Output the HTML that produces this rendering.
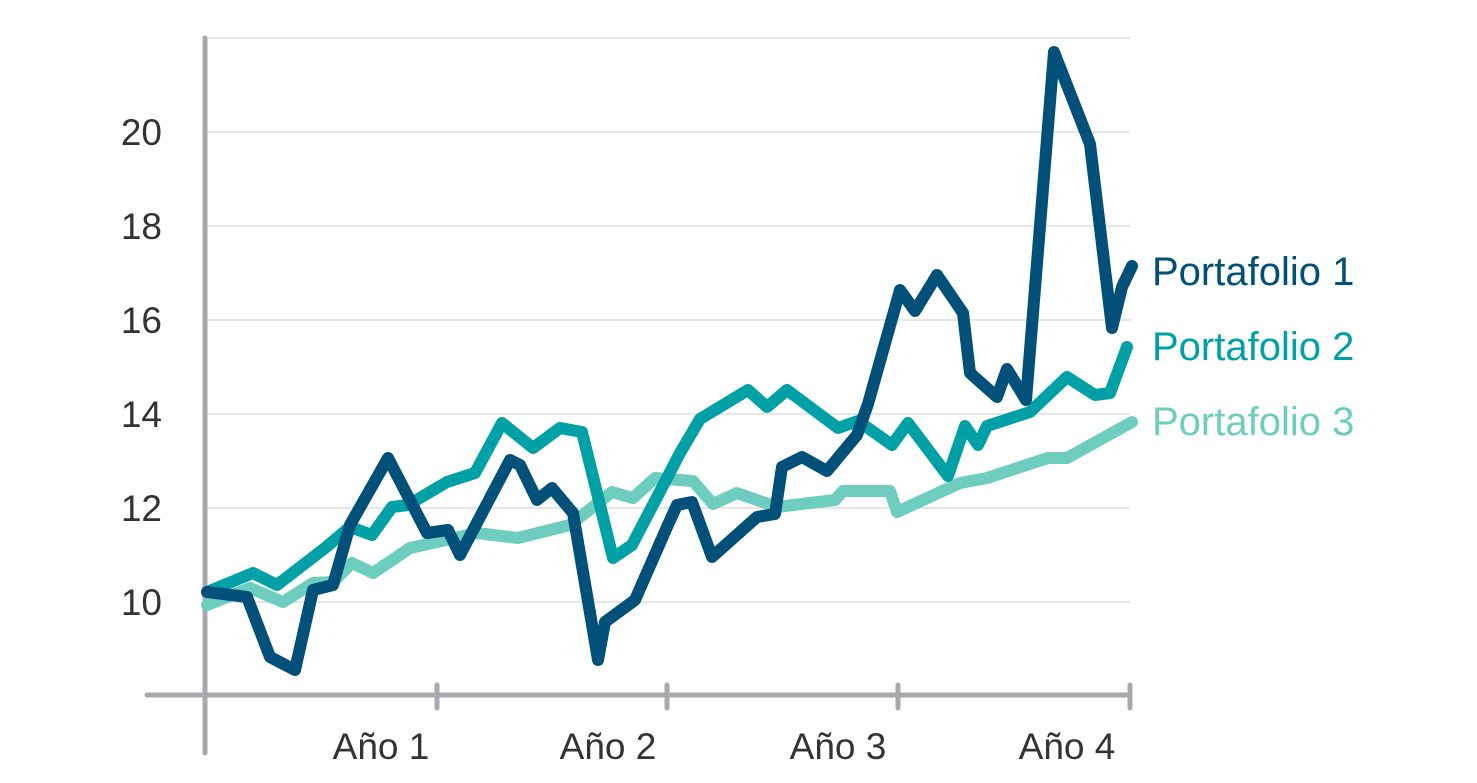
<!DOCTYPE html>
<html><head><meta charset="utf-8"><style>
html,body{margin:0;padding:0;background:#fff;}
svg{display:block;}
text{font-family:"Liberation Sans",sans-serif;}
</style></head><body>
<svg width="1477" height="783" viewBox="0 0 1477 783" xmlns="http://www.w3.org/2000/svg">
<g stroke="#e6e6e6" stroke-width="2">
<line x1="205" y1="38" x2="1130" y2="38"/>
<line x1="205" y1="132" x2="1130" y2="132"/>
<line x1="205" y1="226" x2="1130" y2="226"/>
<line x1="205" y1="320" x2="1130" y2="320"/>
<line x1="205" y1="414" x2="1130" y2="414"/>
<line x1="205" y1="508" x2="1130" y2="508"/>
<line x1="205" y1="602" x2="1130" y2="602"/>
</g>
<g stroke="#a8a9ad" stroke-width="5" stroke-linecap="round" fill="none">
<line x1="205" y1="38" x2="205" y2="753"/>
<line x1="147" y1="695" x2="1130" y2="695"/>
<line x1="437" y1="685" x2="437" y2="708"/>
<line x1="667" y1="685" x2="667" y2="708"/>
<line x1="898" y1="685" x2="898" y2="708"/>
<line x1="1130" y1="685" x2="1130" y2="708"/>
</g>
<g font-size="37" fill="#333" text-anchor="end">
<text x="162" y="145">20</text>
<text x="162" y="239">18</text>
<text x="162" y="333">16</text>
<text x="162" y="427">14</text>
<text x="162" y="521">12</text>
<text x="162" y="615">10</text>
</g>
<g font-size="37" fill="#333" text-anchor="middle">
<text x="381" y="759">Año 1</text>
<text x="608" y="759">Año 2</text>
<text x="838" y="759">Año 3</text>
<text x="1067" y="759">Año 4</text>
</g>
<g fill="none" stroke-width="12" stroke-linejoin="round" stroke-linecap="round">
<polyline stroke="#6dcdbf" points="207,605 250,588 283,602 313,583 333,582 352,563 373,573 410,548 477,533 518,538 570,525 612,492 633,498 655,478 680,480 693,481 713,504 737,493 777,507 835,500 843,491 890,491 897,512 960,483 987,478 1048,458 1067,458 1132,422"/>
<polyline stroke="#00a1a6" points="207,592 253,573 277,585 325,548 350,527 372,535 392,507 408,505 447,482 475,473 502,423 533,448 560,428 582,432 613,558 632,545 680,453 700,419 748,390 767,407 787,390 838,428 858,421 892,445 908,423 948,476 965,426 978,445 987,426 1030,412 1067,377 1095,395 1110,393 1127,347"/>
<polyline stroke="#005079" points="207,592 247,597 270,657 295,670 313,590 333,585 350,525 388,458 427,533 448,530 460,555 510,460 520,465 537,500 552,488 573,513 598,660 605,622 635,600 667,527 677,505 692,502 712,557 757,517 775,514 782,467 802,457 827,471 857,435 868,404 900,290 915,311 937,275 963,313 970,373 997,397 1007,369 1026,400 1054,52 1090,144 1112,328 1122,287 1132,266"/>
</g>
<g font-size="40">
<text x="1152" y="285" fill="#005079">Portafolio 1</text>
<text x="1152" y="360" fill="#00a1a6">Portafolio 2</text>
<text x="1152" y="435" fill="#6dcdbf">Portafolio 3</text>
</g>
</svg>
</body></html>
